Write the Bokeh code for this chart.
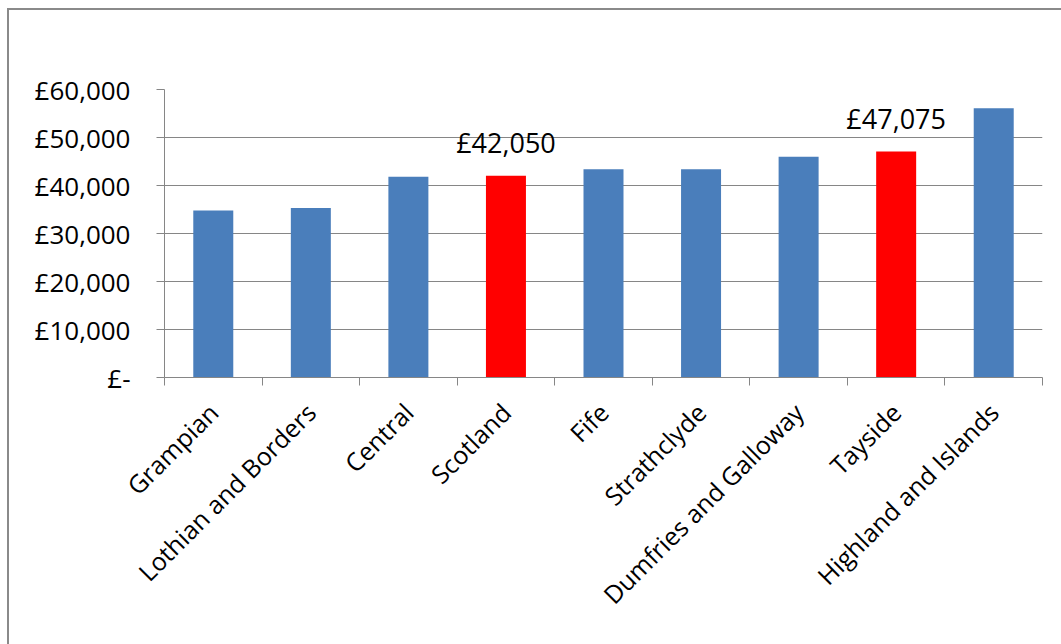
from bokeh.plotting import figure
from bokeh.models import ColumnDataSource, FixedTicker, Range1d
from bokeh.core.properties import value
from bokeh.embed import file_html
from bokeh.resources import INLINE
import math

regions = ["Grampian", "Lothian and Borders", "Central", "Scotland", "Fife",
           "Strathclyde", "Dumfries and Galloway", "Tayside", "Highland and Islands"]
salaries = [34800, 35300, 41800, 42050, 43400, 43400, 46000, 47075, 56100]
highlighted = ["Scotland", "Tayside"]
y_ticks = [0, 10000, 20000, 30000, 40000, 50000, 60000]

BLUE = "#4a7ebb"
RED = "#ff0000"
FONT = "Open Sans"

xs = [i + 0.5 for i in range(len(regions))]
colors = [RED if r in highlighted else BLUE for r in regions]
src = ColumnDataSource(dict(x=xs, y=salaries, color=colors, region=regions))

lab_x = [x for x, r in zip(xs, regions) if r in highlighted]
lab_y = [v for v, r in zip(salaries, regions) if r in highlighted]
lab_t = ["£{:,}".format(v) for v in lab_y]
lab_src = ColumnDataSource(dict(x=lab_x, y=lab_y, t=lab_t))

p = figure(width=1054, height=636, output_backend="svg", toolbar_location=None,
           x_range=Range1d(0, len(regions)), y_range=Range1d(0, 60000),
           min_border_left=155, min_border_right=21, min_border_top=79,
           min_border_bottom=269)
p.styles = {"margin-left": "7px", "margin-top": "8px",
            "border-left": "2px solid #8a8a8a", "border-top": "2px solid #8a8a8a"}
p.outline_line_color = None
p.background_fill_color = "white"
p.border_fill_color = "white"

p.vbar(x="x", top="y", width=0.41, bottom=0, fill_color="color", line_color=None, source=src)
p.text(x="x", y="y", text="t", source=lab_src, text_align="center", text_baseline="bottom",
       y_offset=-15, text_font=value(FONT), text_font_size="27px", text_color="black")

# y axis
p.yaxis.ticker = FixedTicker(ticks=y_ticks)
p.yaxis.major_label_overrides = {t: ("£-" if t == 0 else "£{:,}".format(t)) for t in y_ticks}
p.yaxis.major_label_text_font = FONT
p.yaxis.major_label_text_font_size = "26px"
p.yaxis.major_label_text_color = "black"
p.yaxis.axis_line_color = "#868686"
p.yaxis.major_tick_line_color = "#868686"
p.yaxis.major_tick_out = 8
p.yaxis.major_tick_in = 0
p.yaxis.minor_tick_line_color = None
p.yaxis.major_label_standoff = 26

# x axis: labels at centres, ticks at category boundaries
p.xaxis.ticker = FixedTicker(ticks=xs, minor_ticks=list(range(len(regions) + 1)))
p.xaxis.major_label_overrides = {x: r for x, r in zip(xs, regions)}
p.xaxis.major_label_orientation = math.pi / 4
p.xaxis.major_label_text_font = FONT
p.xaxis.major_label_text_font_size = "25px"
p.xaxis.major_label_text_color = "black"
p.xaxis.axis_line_color = "#868686"
p.xaxis.major_tick_line_color = None
p.xaxis.minor_tick_line_color = "#868686"
p.xaxis.minor_tick_out = 8
p.xaxis.minor_tick_in = 0
p.xaxis.major_label_standoff = 22

p.xgrid.grid_line_color = None
p.ygrid.ticker = FixedTicker(ticks=y_ticks)
p.ygrid.grid_line_color = "#868686"

open("out.html", "w").write(file_html(p, INLINE))
